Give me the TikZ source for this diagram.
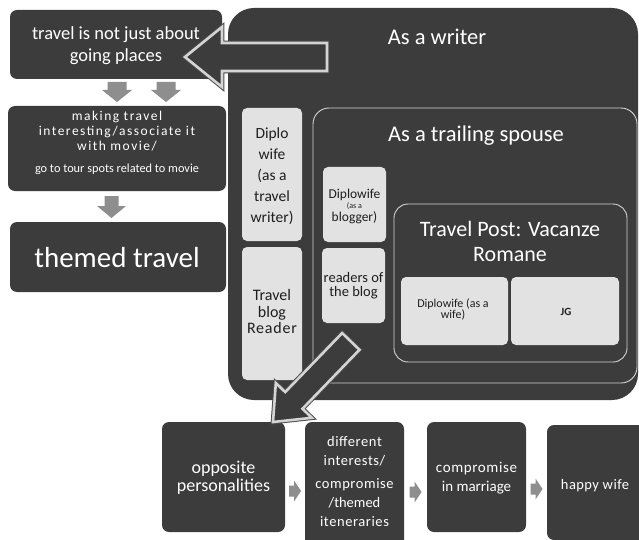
\documentclass[tikz,border=0pt]{standalone}
\usepackage{fontspec}
\setmainfont{Carlito}
\definecolor{boxdark}{HTML}{3C3C3C}
\definecolor{boxlight}{HTML}{E2E2E2}
\definecolor{rimlight}{HTML}{D4D4D4}
\definecolor{arrowgray}{HTML}{8E8E8E}
\definecolor{inktext}{HTML}{1E1E1E}
\newcommand{\fs}[2]{\fontsize{#1}{#2}\selectfont}
\begin{document}
\begin{tikzpicture}[x=1pt,y=-1pt,
  darkbox/.style={fill=boxdark, rounded corners=7pt, inner sep=0pt},
  lightbox/.style={fill=boxlight, rounded corners=5pt, inner sep=0pt},
  frame/.style={draw=rimlight, line width=0.9pt, inner sep=0pt},
  wtext/.style={text=white, align=center, inner sep=0pt},
  btext/.style={text=inktext, align=center, inner sep=0pt},
  blockarrow/.style={fill=arrowgray},
  bigpointer/.style={fill=boxdark, draw=rimlight, line width=2.6pt, line join=miter},
  pointershade/.style={draw=black!70, line width=4.6pt, line join=miter}
]
\useasboundingbox (0,0) rectangle (639,540);
\fill[white] (0,0) rectangle (639,540);

% ---------- left column ----------
\node[darkbox, minimum width=212, minimum height=69] (idea) at (116,44.5) {};
\node[wtext, font=\fs{18.5}{22}] (ideaT) at (116,46) {travel is not just about\\going places};

\node[darkbox, minimum width=218, minimum height=85] (movie) at (117,148.5) {};
\node[wtext, font=\fs{13.5}{15}] (movieT) at (117,142.5)
  {\addfontfeatures{LetterSpace=11}making travel\\\addfontfeatures{LetterSpace=11}interesting/associate it\\\addfontfeatures{LetterSpace=11}with movie/\\[7pt]\fs{12.3}{15}go to tour spots related to movie};

\node[darkbox, minimum width=216, minimum height=70] (themed) at (118,257) {};
\node[wtext, font=\fs{29}{32}] (themedT) at (117,258) {themed travel};

% down arrows of the left column (local y grows downwards)
\foreach \cx/\cy/\sw/\hw/\sl/\hl in {117/82/9.5/15/8/12, 166/82/9.5/15/8/12, 111.5/196/7/14.5/10/12} {
  \begin{scope}[shift={(\cx,\cy)}]
    \fill[blockarrow] (-\sw,0) -- (-\sw,\sl) -- (-\hw,\sl) -- (0,\sl+\hl)
      -- (\hw,\sl) -- (\sw,\sl) -- (\sw,0) -- cycle;
  \end{scope}
}

% ---------- the writer panel ----------
\node[darkbox, rounded corners=26pt, minimum width=410, minimum height=392] (writer) at (433,204) {};
\node[wtext, font=\fs{22.5}{26}] (writerT) at (437,37) {As a writer};

\node[lightbox, minimum width=60, minimum height=133] (dwtravel) at (272,174.5) {};
\node[btext, font=\fs{15.5}{21}] (dwtravelT) at (272,176) {Diplo\\wife\\(as a\\travel\\writer)};

\node[lightbox, minimum width=60, minimum height=133] (reader) at (272,313.5) {};
\node[btext, font=\fs{16}{16.5}] (readerT) at (272,312) {Travel\\blog\\\addfontfeatures{LetterSpace=5}Reader};

\node[frame, rounded corners=16pt, minimum width=324, minimum height=275] (spouse) at (475,245.5) {};
\node[wtext, font=\fs{22.5}{26}] (spouseT) at (476,136) {As a trailing spouse};

\node[lightbox, minimum width=63, minimum height=75] (blogger) at (354.5,204.5) {};
\node[btext, font=\fs{13.5}{13}] (bloggerT) at (354.5,206) {Diplowife\\[-3pt]{\fs{8}{10}(as a}\\blogger)};

\node[lightbox, minimum width=63, minimum height=75] (readers) at (353.5,285.5) {};
\node[btext, font=\fs{14.5}{14}] (readersT) at (353.5,286) {readers of\\the blog};

\node[frame, rounded corners=14pt, minimum width=233, minimum height=158] (post) at (510.5,283) {};
\node[wtext, font=\fs{22}{25}] (postT) at (510,241.5) {Travel Post: Vacanze\\Romane};

\node[lightbox, minimum width=107, minimum height=68] (wife) at (454.5,311) {};
\node[btext, font=\fs{12}{11}] (wifeT) at (453,309) {Diplowife (as a\\wife)};

\node[lightbox, minimum width=108, minimum height=68] (jg) at (565,311) {};
\node[btext, font=\fs{11}{12}\bfseries] (jgT) at (566,312) {JG};

% ---------- bottom row ----------
\node[darkbox, minimum width=123, minimum height=110] (opp) at (223.5,477) {};
\node[wtext, font=\fs{18}{18.5}] (oppT) at (223.5,478) {opposite\\personalities};

\node[darkbox, minimum width=99, minimum height=126] (diff) at (354.5,485) {};
\node[wtext, font=\fs{14.5}{19}] (diffT) at (354.5,482)
  {\addfontfeatures{LetterSpace=4}different\\\addfontfeatures{LetterSpace=4}interests/\\[4pt]\addfontfeatures{LetterSpace=4}compromise\\/themed\\\addfontfeatures{LetterSpace=4}iteneraries};

\node[darkbox, minimum width=99, minimum height=110] (comp) at (476.5,477) {};
\node[wtext, font=\fs{15}{18.5}] (compT) at (476.5,478) {\addfontfeatures{LetterSpace=4}compromise\\in marriage};

\node[darkbox, minimum width=103, minimum height=115] (happy) at (598.5,482.5) {};
\node[wtext, font=\fs{14.5}{17}] (happyT) at (595,486) {\addfontfeatures{LetterSpace=3}happy wife};

% small arrows along the bottom row
\foreach \a/\b/\yy in {opp/diff/491, diff/comp/492, comp/happy/489} {
  \path (\a.east) -- (\b.west) coordinate[pos=0.5] (mid\a);
  \fill[blockarrow] ([xshift=-6]mid\a|-0,\yy) ++(0,-5.5) -- ++(5,0) -- ++(0,-5)
    -- ++(7,10.5) -- ++(-7,10.5) -- ++(0,-5) -- ++(-5,0) -- cycle;
}

% ---------- big outlined pointers ----------
\begin{scope}[shift={(185,57)}]
  \path[pointershade] (0,0) -- (37,-30) -- (37,-14) -- (142,-14) -- (142,14) -- (37,14) -- (37,30) -- cycle;
  \path[bigpointer] (0,0) -- (37,-30) -- (37,-14) -- (142,-14) -- (142,14) -- (37,14) -- (37,30) -- cycle;
\end{scope}

\begin{scope}[shift={(273,422)}, rotate=46]
  \path[pointershade] (0,0) -- (30,-25) -- (30,-12) -- (112,-12) -- (112,12) -- (30,12) -- (30,25) -- cycle;
  \path[bigpointer] (0,0) -- (30,-25) -- (30,-12) -- (112,-12) -- (112,12) -- (30,12) -- (30,25) -- cycle;
\end{scope}
\end{tikzpicture}
\end{document}
